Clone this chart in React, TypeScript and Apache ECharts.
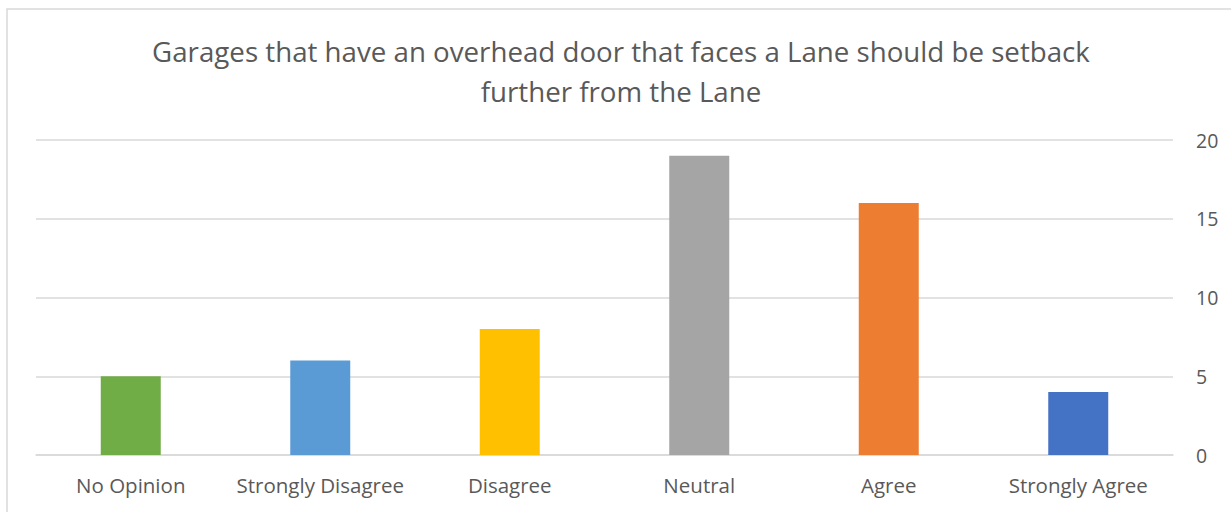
import React, { useEffect, useRef } from "react";
import * as echarts from "echarts";

const categories = ["No Opinion", "Strongly Disagree", "Disagree", "Neutral", "Agree", "Strongly Agree"];
const values = [5, 6, 8, 19, 16, 4];
const barColors = ["#70AD47", "#5B9BD5", "#FFC000", "#A5A5A5", "#ED7D31", "#4472C4"];
const titleLines = [
  "Garages that have an overhead door that faces a Lane should be setback",
  "further from the Lane",
];

const FONT = "'Open Sans', 'Noto Sans', sans-serif";

export default function App() {
  const ref = useRef<HTMLDivElement>(null);
  useEffect(() => {
    document.body.style.margin = "0";
    const chart = echarts.init(ref.current!, null, { renderer: "svg" });
    chart.setOption({
      animation: false,
      backgroundColor: "#ffffff",
      title: {
        text: titleLines.join("\n"),
        left: 616,
        top: 26,
        textAlign: "center",
        textStyle: {
          fontFamily: FONT,
          fontSize: 27.7,
          fontWeight: "normal",
          color: "#595959",
          lineHeight: 40,
        },
      },
      graphic: [
        {
          type: "rect",
          shape: { x: 7, y: 9, width: 1240, height: 520 },
          style: { fill: "none", stroke: "#D9D9D9", lineWidth: 1.5 },
          silent: true,
        },
      ],
      grid: { left: 36, right: 1231 - 1173, top: 140, bottom: 512 - 455 },
      xAxis: {
        type: "category",
        data: categories,
        axisLine: { lineStyle: { color: "#D9D9D9", width: 1.5 } },
        axisTick: { show: false },
        axisLabel: {
          fontFamily: FONT,
          fontSize: 20.5,
          color: "#595959",
          margin: 19,
          interval: 0,
          hideOverlap: false,
        },
      },
      yAxis: {
        type: "value",
        position: "right",
        min: 0,
        max: 20,
        interval: 5,
        axisLine: { show: false },
        axisTick: { show: false },
        splitLine: { lineStyle: { color: "#D9D9D9", width: 1.5 } },
        axisLabel: { fontFamily: FONT, fontSize: 19.5, color: "#595959", margin: 23, align: "left" },
      },
      series: [
        {
          type: "bar",
          barWidth: 60,
          data: values.map((v, i) => ({ value: v, itemStyle: { color: barColors[i] } })),
        },
      ],
    });
    return () => chart.dispose();
  }, []);
  return <div ref={ref} style={{ width: 1231, height: 512 }} />;
}
